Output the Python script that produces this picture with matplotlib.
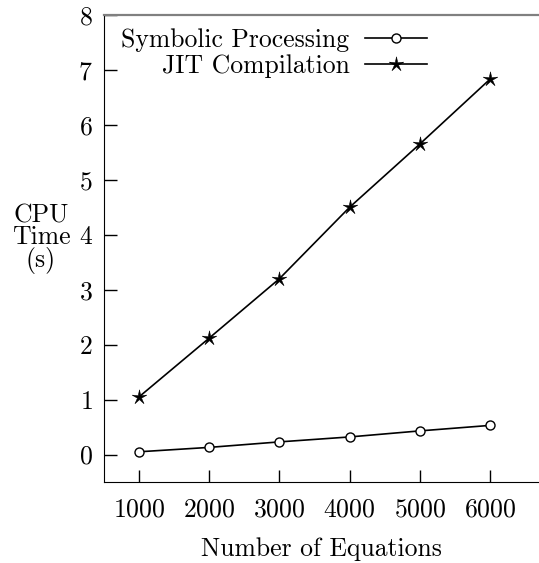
import matplotlib
matplotlib.use('Agg')
import matplotlib.pyplot as plt
from matplotlib.path import Path

plt.rcParams['font.family'] = 'cmr10'
plt.rcParams['axes.formatter.use_mathtext'] = True
plt.rcParams['mathtext.fontset'] = 'cm'

# Data
# ____________________________________________________________
equations = [1000, 2000, 3000, 4000, 5000, 6000]
symbolic  = [0.05, 0.13, 0.23, 0.32, 0.43, 0.53]
jit       = [1.05, 2.12, 3.20, 4.50, 5.65, 6.83]
yticks    = [0, 1, 2, 3, 4, 5, 6, 7, 8]

FS = 18.5
thin_star = Path.unit_regular_star(5, innerCircle=0.28)

fig = plt.figure(figsize=(5.39, 5.63), dpi=100, facecolor='white')
ax = fig.add_axes([104 / 539, 81 / 563, 435 / 539, 467 / 563])

ax.plot(equations, symbolic, color='black', linewidth=1.2, marker='o',
        markersize=6.5, markerfacecolor='white', markeredgewidth=1.0,
        label='Symbolic Processing')
ax.plot(equations, jit, color='black', linewidth=1.2, marker=thin_star,
        markersize=11, markeredgewidth=0.4,
        label='JIT Compilation')

ax.set_xlim(500, 6700)
ax.set_ylim(-0.5, 8)
ax.set_xticks(equations)
ax.set_yticks(yticks)
ax.tick_params(direction='in', length=9, width=1.0, labelsize=FS)
ax.tick_params(axis='y', pad=8)
ax.tick_params(axis='x', pad=11)

ax.spines['right'].set_visible(False)
ax.spines['top'].set_color('#808080')
ax.spines['top'].set_linewidth(1.6)

ax.set_xlabel('Number of Equations', fontsize=FS, labelpad=12)
ax.text(-0.145, 0.52, 'CPU\nTime\n(s)', transform=ax.transAxes,
        fontsize=FS, ha='center', va='center', linespacing=0.9)

ax.legend(loc='upper left', bbox_to_anchor=(0.04, 0.972), frameon=False,
          markerfirst=False, fontsize=FS, handlelength=2.4,
          handletextpad=0.6, labelspacing=0.1, borderpad=0, borderaxespad=0)

fig.savefig('out.png', dpi=100)
